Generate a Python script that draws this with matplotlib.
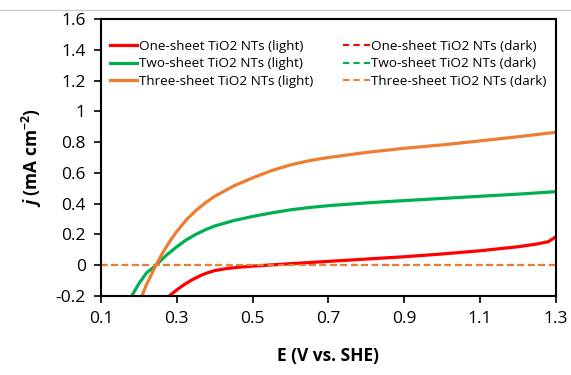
import matplotlib.pyplot as plt
from matplotlib.lines import Line2D

plt.rcParams['font.family'] = ['Open Sans', 'DejaVu Sans']
plt.rcParams['mathtext.fontset'] = 'custom'
plt.rcParams['mathtext.it'] = 'Open Sans:bold:italic'
plt.rcParams['mathtext.rm'] = 'Open Sans:bold'

# light curves
x_one = [0.28, 0.3, 0.32, 0.34, 0.36, 0.38, 0.4, 0.43, 0.46, 0.5, 0.6, 0.7, 0.8, 0.9, 1.0, 1.1, 1.2, 1.25, 1.28, 1.3]
y_one = [-0.2, -0.16, -0.125, -0.095, -0.07, -0.05, -0.035, -0.022, -0.014, -0.006, 0.01, 0.025, 0.04, 0.055, 0.073, 0.094, 0.12, 0.138, 0.153, 0.185]

x_two = [0.181, 0.2, 0.22, 0.245, 0.27, 0.3, 0.325, 0.35, 0.375, 0.4, 0.45, 0.5, 0.55, 0.6, 0.65, 0.7, 0.8, 0.9, 1.0, 1.1, 1.2, 1.3]
y_two = [-0.2, -0.12, -0.05, 0.0, 0.06, 0.12, 0.165, 0.2, 0.23, 0.255, 0.29, 0.317, 0.34, 0.36, 0.375, 0.387, 0.405, 0.42, 0.434, 0.448, 0.462, 0.478]

x_three = [0.208, 0.22, 0.235, 0.245, 0.26, 0.28, 0.3, 0.325, 0.35, 0.375, 0.4, 0.45, 0.5, 0.55, 0.6, 0.65, 0.7, 0.8, 0.9, 1.0, 1.1, 1.2, 1.3]
y_three = [-0.2, -0.125, -0.05, 0.0, 0.07, 0.15, 0.22, 0.295, 0.355, 0.405, 0.448, 0.515, 0.568, 0.615, 0.652, 0.68, 0.70, 0.733, 0.76, 0.782, 0.808, 0.835, 0.864]

# dark curves (flat at zero)
x_dark = [0.1, 1.3]
y_dark = [0.0, 0.0]

names = ['One-sheet TiO2 NTs', 'Two-sheet TiO2 NTs', 'Three-sheet TiO2 NTs']
colors = ['#FF0000', '#00B050', '#ED7D31']

fig = plt.figure(figsize=(5.71, 3.75), dpi=100)
ax = fig.add_axes([0.1769, 0.2107, 0.7968, 0.7386])

lights = [(x_one, y_one), (x_two, y_two), (x_three, y_three)]
handles = []
for (xs, ys), c, n in zip(lights, colors, names):
    h, = ax.plot(xs, ys, color=c, lw=2.3, label=n + ' (light)')
    handles.append(h)
for c, n in zip(colors, names):
    h, = ax.plot(x_dark, y_dark, color=c, lw=1.5, ls=(0, (3, 2)), label=n + ' (dark)')
    handles.append(h)

ax.set_xlim(0.1, 1.3)
ax.set_ylim(-0.2, 1.6)
ax.set_xticks([0.1, 0.3, 0.5, 0.7, 0.9, 1.1, 1.3])
ax.set_xticklabels(['0.1', '0.3', '0.5', '0.7', '0.9', '1.1', '1.3'])
ax.set_yticks([-0.2, 0, 0.2, 0.4, 0.6, 0.8, 1, 1.2, 1.4, 1.6])
ax.set_yticklabels(['-0.2', '0', '0.2', '0.4', '0.6', '0.8', '1', '1.2', '1.4', '1.6'])
ax.tick_params(labelsize=12.5, direction='out', length=5, width=1.2, pad=6)
for s in ax.spines.values():
    s.set_linewidth(1.5)

ax.set_xlabel('E (V vs. SHE)', fontsize=12.5, fontweight='bold', labelpad=14)
ax.set_ylabel(r'$j$ (mA cm$^{-2}$)', fontsize=12.5, fontweight='bold', labelpad=8)

ax.legend(handles=handles, ncol=2, loc='upper left', frameon=False, fontsize=9.7,
          handlelength=2.0, handletextpad=0.1, columnspacing=2.2, labelspacing=0.35,
          bbox_to_anchor=(0.0, 0.96), borderaxespad=0.3)

fig.add_artist(Line2D([0, 1], [0.973, 0.973], color='#cccccc', lw=1))

fig.savefig('out.png', dpi=100)
